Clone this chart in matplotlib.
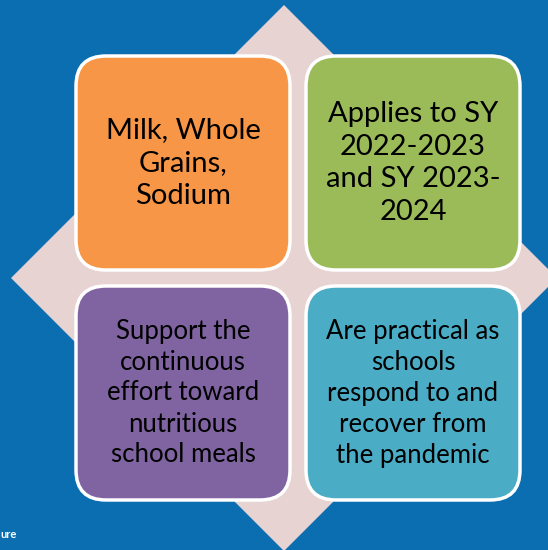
import matplotlib
matplotlib.use('Agg')
import matplotlib.pyplot as plt
from matplotlib.patches import FancyBboxPatch, Polygon

# box contents, clockwise from top-left
labels = [
    "Milk, Whole\nGrains,\nSodium",
    "Applies to SY\n2022-2023\nand SY 2023-\n2024",
    "Support the\ncontinuous\neffort toward\nnutritious\nschool meals",
    "Are practical as\nschools\nrespond to and\nrecover from\nthe pandemic",
]
colors = ["#f79646", "#9bbb59", "#8064a2", "#4bacc6"]
font_sizes = [21, 21, 18.5, 18.5]
line_spacings = [1.33, 1.33, 1.3, 1.3]

W, H = 548, 550
fig = plt.figure(figsize=(W / 100, H / 100), dpi=100)
ax = fig.add_axes([0, 0, 1, 1])
ax.set_xlim(0, W)
ax.set_ylim(H, 0)
ax.axis('off')
fig.patch.set_facecolor('#0a6eb0')

# diamond behind the boxes
cx, cy, r = 284, 278, 273
ax.add_patch(Polygon([(cx, cy - r), (cx + r, cy), (cx, cy + r), (cx - r, cy)],
                     closed=True, facecolor='#e8d3d3', edgecolor='none'))

# box layout
lefts = [76, 306, 76, 306]
tops = [56, 56, 286, 286]
size = 214
pad = 30
for left, top, col, txt, fs, ls in zip(lefts, tops, colors, labels, font_sizes, line_spacings):
    box = FancyBboxPatch((left + pad, top + pad), size - 2 * pad, size - 2 * pad,
                         boxstyle=f"round,pad={pad}", facecolor=col,
                         edgecolor='white', linewidth=2.5)
    ax.add_patch(box)
    ax.text(left + size / 2, top + size / 2, txt, ha='center', va='center',
            fontsize=fs, family='Lato', color='black', linespacing=ls)

ax.text(0, 535, "ure", ha='left', va='center', fontsize=8,
        fontweight='bold', color='white', family='Lato')

fig.savefig('out.png', dpi=100)
